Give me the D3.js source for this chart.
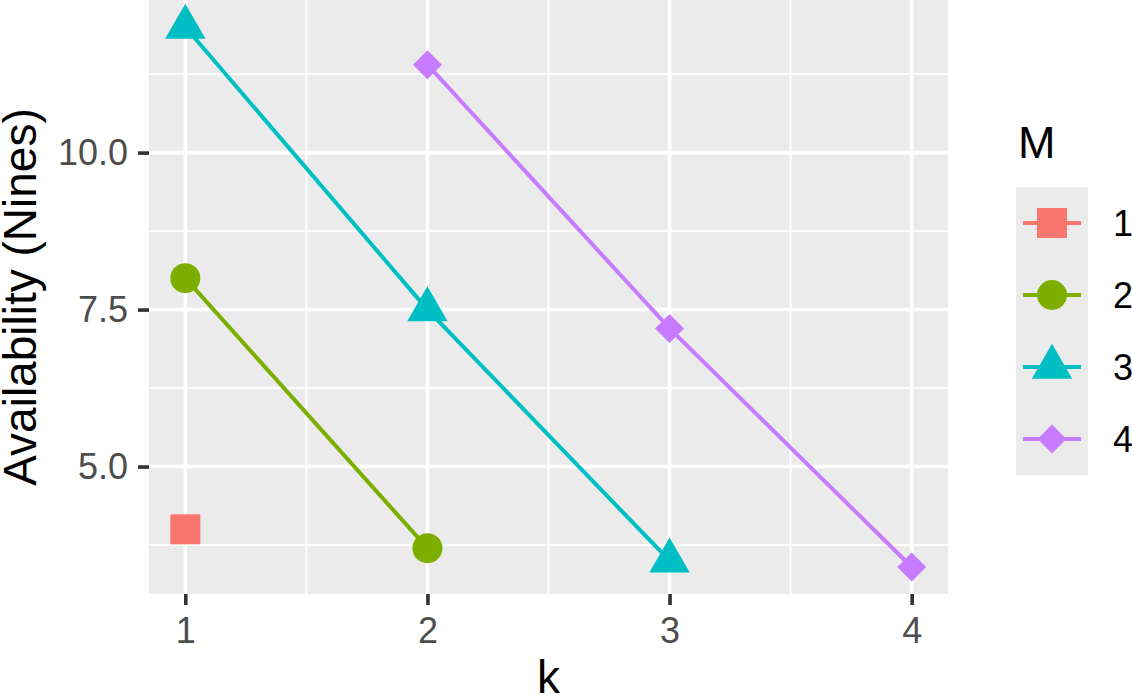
<!DOCTYPE html>
<html>
<head>
<meta charset="utf-8">
<script src="https://cdn.jsdelivr.net/npm/d3@7"></script>
<style>
  body { margin: 0; background: #fff; }
  svg { display: block; font-family: "Liberation Sans", Arial, sans-serif; }
</style>
</head>
<body>
<div id="chart"></div>
<script>
// --- data ---
const groups = ['1', '2', '3', '4'];
const kTicks = [1, 2, 3, 4];
const yTicks = [5.0, 7.5, 10.0];
const m1K = [1], m1Val = [4.0];
const m2K = [1, 2], m2Val = [8.0, 3.7];
const m3K = [1, 2, 3], m3Val = [12.0, 7.5, 3.5];
const m4K = [2, 3, 4], m4Val = [11.4, 7.2, 3.4];

const colors = ['#F8766D', '#7CAE00', '#00BFC4', '#C77CFF'];
const shapes = ['square', 'circle', 'triangle', 'diamond'];

const series = [
  { M: '1', k: m1K, v: m1Val },
  { M: '2', k: m2K, v: m2Val },
  { M: '3', k: m3K, v: m3Val },
  { M: '4', k: m4K, v: m4Val }
].map(s => ({ M: s.M, pts: s.k.map((k, i) => ({ k: k, v: s.v[i] })) }));

/** --- DIMENSIONS --- */
const width = 1132, height = 695;
const panel = { left: 149, right: 948, top: 0, bottom: 594 };

const svg = d3.select('#chart').append('svg')
  .attr('width', width)
  .attr('height', height);

/** --- SCALES --- */
const allV = series.flatMap(s => s.pts.map(p => p.v));
const vMin = d3.min(allV), vMax = d3.max(allV);
const vPad = (vMax - vMin) * 0.05;
const y = d3.scaleLinear()
  .domain([vMin - vPad, vMax + vPad])
  .range([panel.bottom, panel.top]);

const x = d3.scaleLinear()
  .domain([1 - 0.15, 4 + 0.15])
  .range([panel.left, panel.right]);

const color = d3.scaleOrdinal().domain(groups).range(colors);

function symbolPath(shape) {
  if (shape === 'square') return d3.symbol(d3.symbolSquare, 900)();
  if (shape === 'circle') return d3.symbol(d3.symbolCircle, Math.PI * 15 * 15)();
  if (shape === 'triangle') return d3.symbol(d3.symbolTriangle, 707)();
  return d3.symbol(d3.symbolSquare, 420)();
}
function symbolRot(shape) { return shape === 'diamond' ? ' rotate(45)' : ''; }
const shapeOf = d3.scaleOrdinal().domain(groups).range(shapes);

/** --- PANEL + GRID --- */
svg.append('rect')
  .attr('x', panel.left).attr('y', panel.top)
  .attr('width', panel.right - panel.left)
  .attr('height', panel.bottom - panel.top)
  .attr('fill', '#EBEBEB');

const yMinor = [3.75, 6.25, 8.75, 11.25];
const xMinor = [1.5, 2.5, 3.5];
const grid = svg.append('g');

grid.selectAll('line.ymin').data(yMinor).enter().append('line')
  .attr('x1', panel.left).attr('x2', panel.right)
  .attr('y1', d => y(d)).attr('y2', d => y(d))
  .attr('stroke', '#fff').attr('stroke-width', 1.8);
grid.selectAll('line.xmin').data(xMinor).enter().append('line')
  .attr('y1', panel.top).attr('y2', panel.bottom)
  .attr('x1', d => x(d)).attr('x2', d => x(d))
  .attr('stroke', '#fff').attr('stroke-width', 1.8);
grid.selectAll('line.ymaj').data(yTicks).enter().append('line')
  .attr('x1', panel.left).attr('x2', panel.right)
  .attr('y1', d => y(d)).attr('y2', d => y(d))
  .attr('stroke', '#fff').attr('stroke-width', 3.6);
grid.selectAll('line.xmaj').data(kTicks).enter().append('line')
  .attr('y1', panel.top).attr('y2', panel.bottom)
  .attr('x1', d => x(d)).attr('x2', d => x(d))
  .attr('stroke', '#fff').attr('stroke-width', 3.6);

/** --- AXES --- */
const xAxis = svg.append('g')
  .attr('transform', `translate(0,${panel.bottom})`)
  .call(d3.axisBottom(x).tickValues(kTicks).tickFormat(d3.format('d')).tickSize(11).tickPadding(12));
const yAxis = svg.append('g')
  .attr('transform', `translate(${panel.left},0)`)
  .call(d3.axisLeft(y).tickValues(yTicks).tickFormat(d3.format('.1f')).tickSize(11).tickPadding(10));

[xAxis, yAxis].forEach(ax => {
  ax.select('.domain').remove();
  ax.selectAll('.tick line').attr('stroke', '#333333').attr('stroke-width', 3.6);
  ax.selectAll('.tick text')
    .attr('fill', '#4D4D4D')
    .attr('font-size', 36)
    .attr('font-family', '"Liberation Sans", Arial, sans-serif');
});
xAxis.selectAll('.tick text').attr('dy', '0.71em');

svg.append('text')
  .attr('x', (panel.left + panel.right) / 2)
  .attr('y', 693)
  .attr('text-anchor', 'middle')
  .attr('font-size', 46)
  .attr('fill', '#000')
  .text('k');

svg.append('text')
  .attr('transform', `translate(36,${(panel.top + panel.bottom) / 2}) rotate(-90)`)
  .attr('text-anchor', 'middle')
  .attr('font-size', 46)
  .attr('fill', '#000')
  .text('Availability (Nines)');

/** --- LINES + POINTS --- */
const line = d3.line().x(d => x(d.k)).y(d => y(d.v));

svg.append('g').selectAll('path').data(series.filter(s => s.pts.length > 1)).enter()
  .append('path')
  .attr('d', d => line(d.pts))
  .attr('fill', 'none')
  .attr('stroke', d => color(d.M))
  .attr('stroke-width', 4);

const pts = series.flatMap(s => s.pts.map(p => ({ M: s.M, k: p.k, v: p.v })));
svg.append('g').selectAll('path').data(pts).enter()
  .append('path')
  .attr('d', d => symbolPath(shapeOf(d.M)))
  .attr('transform', d => `translate(${x(d.k)},${y(d.v)})` + symbolRot(shapeOf(d.M)))
  .attr('fill', d => color(d.M));

/** --- LEGEND --- */
const legend = svg.append('g');
const keyX = 1016, keyTop = 187, keySize = 72;

legend.append('text')
  .attr('x', 1018).attr('y', 158)
  .attr('font-size', 45)
  .attr('fill', '#000')
  .text('M');

legend.append('rect')
  .attr('x', keyX).attr('y', keyTop)
  .attr('width', keySize).attr('height', keySize * groups.length)
  .attr('fill', '#EBEBEB');

const keys = legend.selectAll('g.key').data(groups).enter()
  .append('g')
  .attr('transform', (d, i) => `translate(${keyX + keySize / 2},${keyTop + keySize * i + keySize / 2})`);

keys.append('line')
  .attr('x1', -29).attr('x2', 29)
  .attr('stroke', d => color(d))
  .attr('stroke-width', 4);
keys.append('path')
  .attr('d', d => symbolPath(shapeOf(d)))
  .attr('transform', d => symbolRot(shapeOf(d)).trim())
  .attr('fill', d => color(d));
keys.append('text')
  .attr('x', 1113 - (keyX + keySize / 2))
  .attr('y', 13)
  .attr('font-size', 36)
  .attr('fill', '#000')
  .text(d => d);
</script>
</body>
</html>
